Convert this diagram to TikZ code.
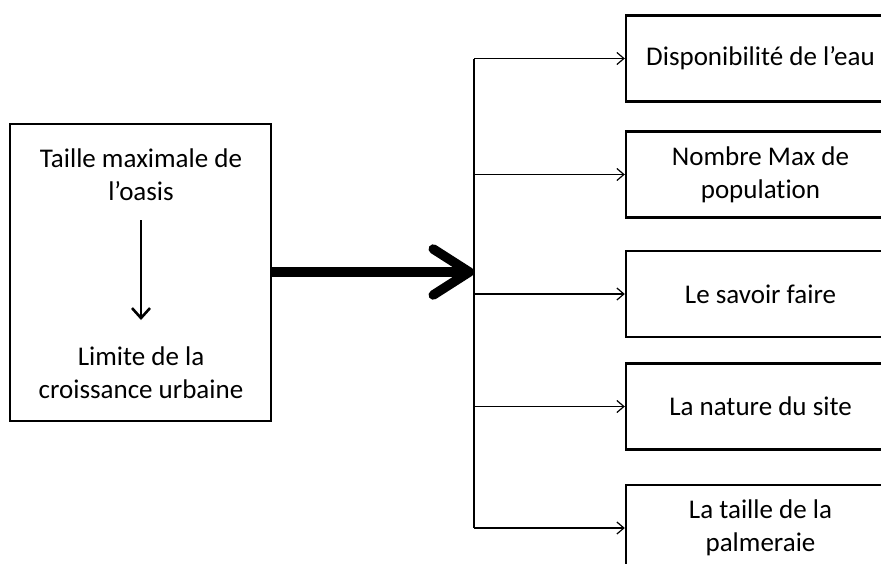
\documentclass[tikz,border=0pt]{standalone}
\usepackage{fontspec}
\setmainfont{Carlito}[RawFeature=-liga]
\usetikzlibrary{arrows.meta}
\begin{document}
\begin{tikzpicture}[x=1pt,y=-1pt,
  txt/.style={font=\fontsize{27}{33}\selectfont, align=center, inner sep=0pt},
  rbox/.style={draw, line width=2.4pt, minimum width=269pt, minimum height=86pt, inner sep=0pt, font=\fontsize{27}{33}\selectfont, align=center},
  thin/.style={line width=1.2pt},
  branch/.style={thin, -{Straight Barb[length=7pt,width=12pt,line width=1.2pt]}}
]
\useasboundingbox (0,0) rectangle (881,563);
\clip (0,0) rectangle (881,563);
\fill[white] (0,0) rectangle (881,563);
% left box
\node[draw, line width=2.4pt, minimum width=261pt, minimum height=297pt, inner sep=0pt] (left) at (140.5,272.5) {};
\node[txt] (t1) at (141,175) {Taille maximale de\\l’oasis};
\node[txt] (t2) at (141,373) {Limite de la\\croissance urbaine};
\coordinate (a1) at (141,220);
\coordinate (a2) at (141,320);
\draw[line width=2.6pt, -{Straight Barb[length=10pt,width=18pt,line width=2.6pt]}] (a1) -- (a2);
% big arrow
\coordinate (hub) at (474,272);
\draw[line width=9.5pt, -{Straight Barb[length=36pt,width=46pt,line width=9.5pt,round]}] (left.east |- hub) -- (hub);
% right boxes
\node[rbox] (b1) at (760.5,58.5) {Disponibilité de l’eau};
\node[rbox] (b2) at (760.5,174.5) {Nombre Max de\\population};
\node[rbox] (b3) at (760.5,294) {Le savoir faire};
\node[rbox] (b4) at (760.5,406.5) {La nature du site};
\node[rbox] (b5) at (760.5,528) {La taille de la\\palmeraie};
% trunk
\coordinate (tt) at (474,58.5);
\coordinate (tb) at (474,528);
\draw[thin] (tt) -- (tb);
\foreach \b in {b1,b2,b3,b4,b5}{
  \draw[branch] (tt |- \b.west) -- (\b.west);
}
\end{tikzpicture}
\end{document}
